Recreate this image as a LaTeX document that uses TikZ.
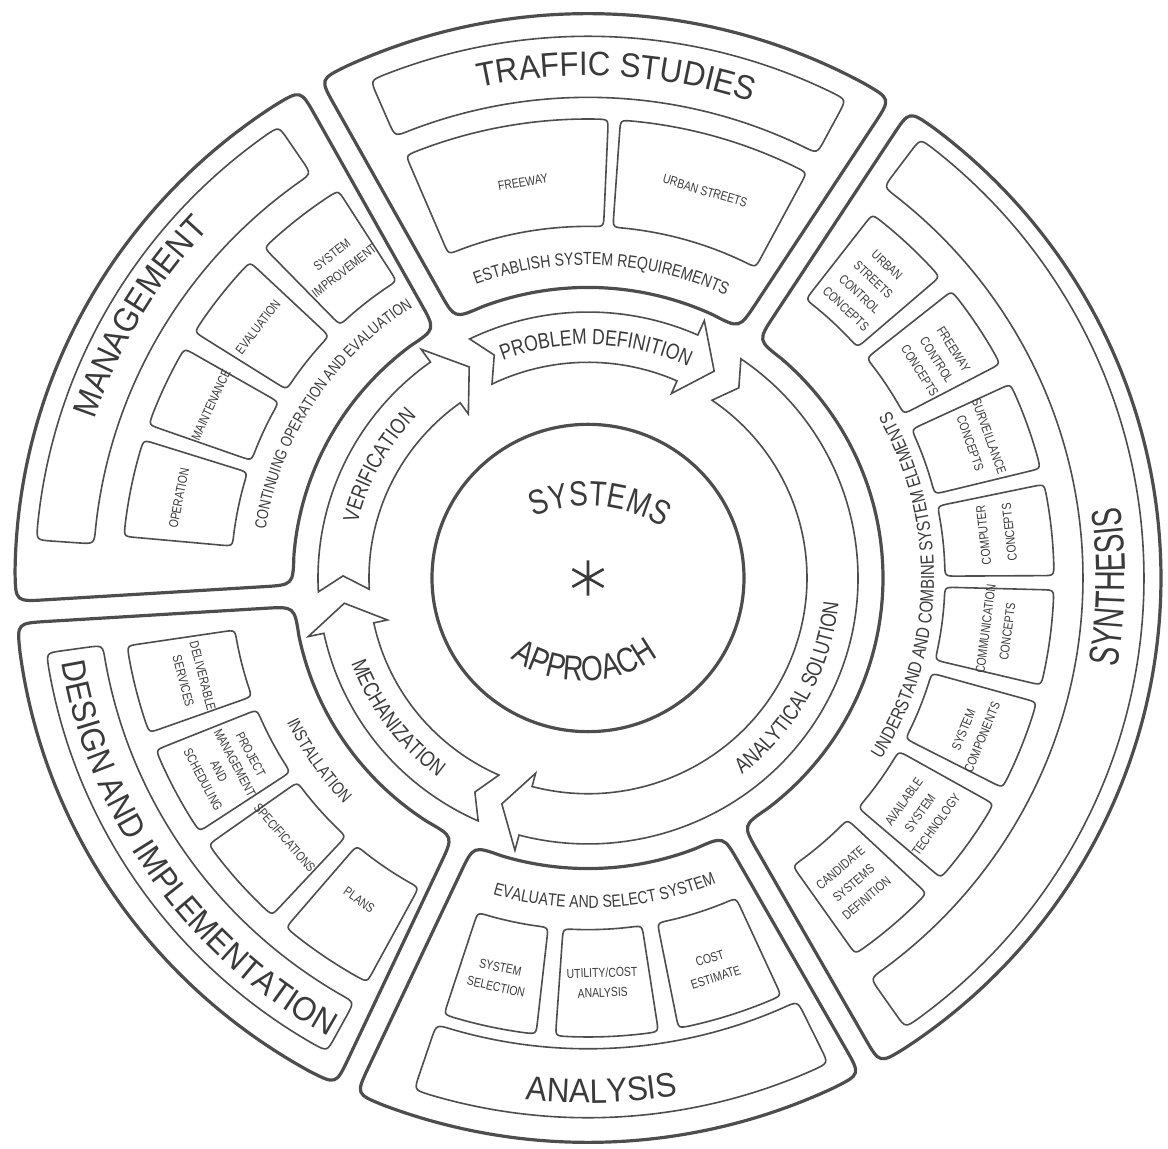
\documentclass[tikz,border=0pt]{standalone}
\usepackage{fontspec}
\setmainfont{Liberation Sans}
\usepackage{tikz}
\usetikzlibrary{calc,decorations.text}
\newfontfamily\titlefont{Liberation Sans}[FakeStretch=0.92]
\newfontfamily\synfont{Liberation Sans}[FakeStretch=0.68]
\newfontfamily\letterfont{Liberation Sans}[FakeStretch=0.8]
\definecolor{inkgray}{HTML}{4D4D4D}
\definecolor{textgray}{HTML}{3A3A3A}
\newcommand{\bigtitle}{\titlefont\fontsize{17}{18}\selectfont\color{textgray}}
\newcommand{\midtitle}{\titlefont\fontsize{16.8}{17}\selectfont\color{textgray}}
\newcommand{\synthtitle}{\synfont\fontsize{21}{22}\selectfont\color{textgray}}
\newcommand{\corefont}{\letterfont\fontsize{17.5}{18}\selectfont\color{textgray}}
\newcommand{\stagefont}{\letterfont\fontsize{11}{12}\selectfont\color{textgray}}
\newcommand{\taskfont}{\letterfont\fontsize{8.8}{10}\selectfont\color{textgray}}
\newcommand{\boxfont}{\letterfont\fontsize{6.5}{10}\selectfont}
\tikzset{
  sectorline/.style={draw=inkgray, line width=1.6pt},
  bandline/.style={draw=inkgray, line width=0.8pt},
  boxline/.style={draw=inkgray, line width=0.8pt},
  arrowline/.style={draw=inkgray, line width=0.8pt, line join=miter},
  coreline/.style={draw=inkgray, line width=1.6pt},
  starline/.style={draw=textgray, line width=1.3pt},
  boxtext/.style={font=\boxfont, text=textgray, align=center, inner sep=0pt},
  arclabel/.style 2 args={decorate, decoration={text along path, text align=center, text={|#1|#2}}},
}
% rounded annular sector: style, start, end, inner r, outer r, half gap, corner
\newcommand{\annsec}[7]{%
  \pgfmathsetmacro{\secA}{#2+asin(#6/#4)}%
  \pgfmathsetmacro{\secB}{#3-asin(#6/#4)}%
  \pgfmathsetmacro{\secC}{#2+asin(#6/#5)}%
  \pgfmathsetmacro{\secD}{#3-asin(#6/#5)}%
  \pgfmathsetmacro{\secFr}{#7/(#5-#4)}%
  \pgfmathsetmacro{\secCa}{\secC+deg(#7/#5)}%
  \pgfmathsetmacro{\secDb}{\secD-deg(#7/#5)}%
  \pgfmathsetmacro{\secBb}{\secB-deg(#7/#4)}%
  \pgfmathsetmacro{\secAa}{\secA+deg(#7/#4)}%
  \draw[#1] ($(\secA:#4)!\secFr!(\secC:#5)$) -- ($(\secC:#5)!\secFr!(\secA:#4)$)
    .. controls (\secC:#5) .. (\secCa:#5) arc[start angle=\secCa, end angle=\secDb, radius=#5]
    .. controls (\secD:#5) .. ($(\secD:#5)!\secFr!(\secB:#4)$) -- ($(\secB:#4)!\secFr!(\secD:#5)$)
    .. controls (\secB:#4) .. (\secBb:#4) arc[start angle=\secBb, end angle=\secAa, radius=#4]
    .. controls (\secA:#4) .. ($(\secA:#4)!\secFr!(\secC:#5)$) -- cycle;}
% clockwise ring arrow: tail, head base, tip
\newcommand{\ringarrow}[3]{%
  \pgfmathsetmacro{\arrNotch}{#1-3.5}%
  \draw[arrowline] (#1:270) arc[start angle=#1, end angle=#2, radius=270] -- (#2:286)
    -- (#3:245) -- (#2:205) -- (#2:219) arc[start angle=#2, end angle=#1, radius=219]
    -- (\arrNotch:245) -- cycle;}

\begin{document}
\begin{tikzpicture}[x=0.5pt, y=0.4925pt]
  \useasboundingbox (-588,-579.7) rectangle (580,586.8);

  % the five phases
  \foreach \a/\b in {57/119, 119/183.5, 183.5/245, 245/299.5, -60.5/57}
    \annsec{sectorline}{\a}{\b}{295}{573}{11}{30};
  \annsec{bandline}{62}{113.3}{488}{550}{0}{16}
  \annsec{bandline}{124}{176}{495}{553}{0}{16}
  \annsec{bandline}{188}{241.5}{490}{547}{0}{16}
  \annsec{bandline}{251.5}{296}{478}{548}{0}{16}
  \annsec{bandline}{-55.2}{53.3}{495}{556}{0}{16}
  \foreach \a/\b in {62/86, 87.5/113,
                     122.4/134, 136.5/147.6, 150/160.5, 162.5/174.8,
                     188.5/199.7, 202/213.5, 215.5/227.3, 229.6/241.7,
                     252/263.6, 266/278.7, 281.2/294.5,
                     41/52.4, 27.8/38.7, 13.8/25, 0.3/11.8, -13.5/-1.5,
                     -27.2/-15.7, -40.8/-29.5, -55/-43.4}
    \annsec{boxline}{\a}{\b}{357}{466}{0}{12};

  % the cycle of steps
  \draw[coreline] (0,0) circle[radius=156];
  \ringarrow{116}{66}{59}
  \ringarrow{55.5}{-104.8}{-110.6}
  \ringarrow{246}{192}{186}
  \ringarrow{183}{125.7}{119}
  \draw[starline] (90:18) -- (270:18) (30:18) -- (210:18) (150:18) -- (330:18);

  \path[arclabel={\corefont}{SYSTEMS}] ([shift={(0,-67)}]120.3:140) arc[start angle=120.3, end angle=50.3, radius=140];
  \path[arclabel={\corefont}{APPROACH}] ([shift={(-5.3,19.3)}]-140:124) arc[start angle=-140, end angle=-38, radius=124];
  \path[arclabel={\stagefont}{PROBLEM DEFINITION}] (111:237) arc[start angle=111, end angle=65, radius=237];
  \path[arclabel={\stagefont}{VERIFICATION}] (178:237) arc[start angle=178, end angle=124.8, radius=237];
  \path[arclabel={\stagefont}{MECHANIZATION}] (190:252) arc[start angle=190, end angle=243.4, radius=252];
  \path[arclabel={\stagefont}{ANALYTICAL SOLUTION}] (-60:252) arc[start angle=-60, end angle=2, radius=252];

  \path[arclabel={\bigtitle}{TRAFFIC STUDIES}] (116.8:510) arc[start angle=116.8, end angle=56.8, radius=510];
  \path[arclabel={\bigtitle}{MANAGEMENT}] (179.5:519) arc[start angle=179.5, end angle=119.5, radius=519];
  \path[arclabel={\midtitle}{DESIGN AND IMPLEMENTATION}] (182:533) arc[start angle=182, end angle=248, radius=533];
  \path[arclabel={\bigtitle}{ANALYSIS}] (250:533) arc[start angle=250, end angle=293, radius=533];
  \path[arclabel={\synthtitle}{SYNTHESIS}] (-30:537) arc[start angle=-30, end angle=28, radius=537];

  \path[arclabel={\taskfont}{ESTABLISH SYSTEM REQUIREMENTS}] (117.5:318) arc[start angle=117.5, end angle=57.5, radius=318];
  \path[arclabel={\letterfont\fontsize{8}{10}\selectfont\color{textgray}}{CONTINUING OPERATION AND EVALUATION}] (180:326) arc[start angle=180, end angle=114, radius=326];
  \path[arclabel={\taskfont}{INSTALLATION}] (200:335) arc[start angle=200, end angle=229.2, radius=335];
  \path[arclabel={\taskfont}{EVALUATE AND SELECT SYSTEM}] (248:335) arc[start angle=248, end angle=298, radius=335];
  \path[arclabel={\letterfont\fontsize{9.4}{10}\selectfont\color{textgray}}{UNDERSTAND AND COMBINE SYSTEM ELEMENTS}] (-48:346) arc[start angle=-48, end angle=45.2, radius=346];

  % box texts
  \node[boxtext, rotate=9.2] (freeway) at (99.2:407) {FREEWAY};
  \node[boxtext, rotate=-16.6] (urban) at (73.4:410) {URBAN STREETS};
  \node[boxtext, rotate=78.8] (operation) at (168.8:417) {OPERATION};
  \node[boxtext, rotate=65] (maintenance) at (155:416) {MAINTENANCE};
  \node[boxtext, rotate=52.3] (evaluation) at (142.3:417) {EVALUATION};
  \node[boxtext, rotate=38] (improve) at (128:406) {SYSTEM\\IMPROVEMENT};
  \node[boxtext, rotate=-75.3] (deliver) at (194.5:408) {DELIVERABLE\\SERVICES};
  \node[boxtext, rotate=-62, font=\letterfont\fontsize{6.5}{9}\selectfont] (project) at (208:409) {PROJECT\\MANAGEMENT\\AND\\SCHEDULING};
  \node[boxtext, rotate=-49] (specs) at (221:402) {SPECIFICATIONS};
  \node[boxtext, rotate=-35] (plans) at (235:399) {PLANS};
  \node[boxtext, rotate=-12.5] (selection) at (257.5:415) {SYSTEM\\SELECTION};
  \node[boxtext, rotate=2] (utility) at (272:411) {UTILITY/COST\\ANALYSIS};
  \node[boxtext, rotate=17.5] (cost) at (287.5:415) {COST\\ESTIMATE};
  \node[boxtext, rotate=-43.3] (urbanctl) at (46.7:406) {URBAN\\STREETS\\CONTROL\\CONCEPTS};
  \node[boxtext, rotate=-57.6] (freewayctl) at (32.4:413) {FREEWAY\\CONTROL\\CONCEPTS};
  \node[boxtext, rotate=-70.3] (surveil) at (19.7:416) {SURVEILLANCE\\CONCEPTS};
  \node[boxtext, rotate=96.3, font=\letterfont\fontsize{6.5}{13}\selectfont] (computer) at (6.3:411) {COMPUTER\\CONCEPTS};
  \node[boxtext, rotate=82.6, font=\letterfont\fontsize{6.5}{11}\selectfont] (commun) at (-7.4:412) {COMMUNICATION\\CONCEPTS};
  \node[boxtext, rotate=67.7] (components) at (-22.3:416) {SYSTEM\\COMPONENTS};
  \node[boxtext, rotate=54.3] (available) at (-35.7:409) {AVAILABLE\\SYSTEM\\TECHNOLOGY};
  \node[boxtext, rotate=40.6] (candidate) at (-49.4:408) {CANDIDATE\\SYSTEMS\\DEFINITION};
\end{tikzpicture}
\end{document}
